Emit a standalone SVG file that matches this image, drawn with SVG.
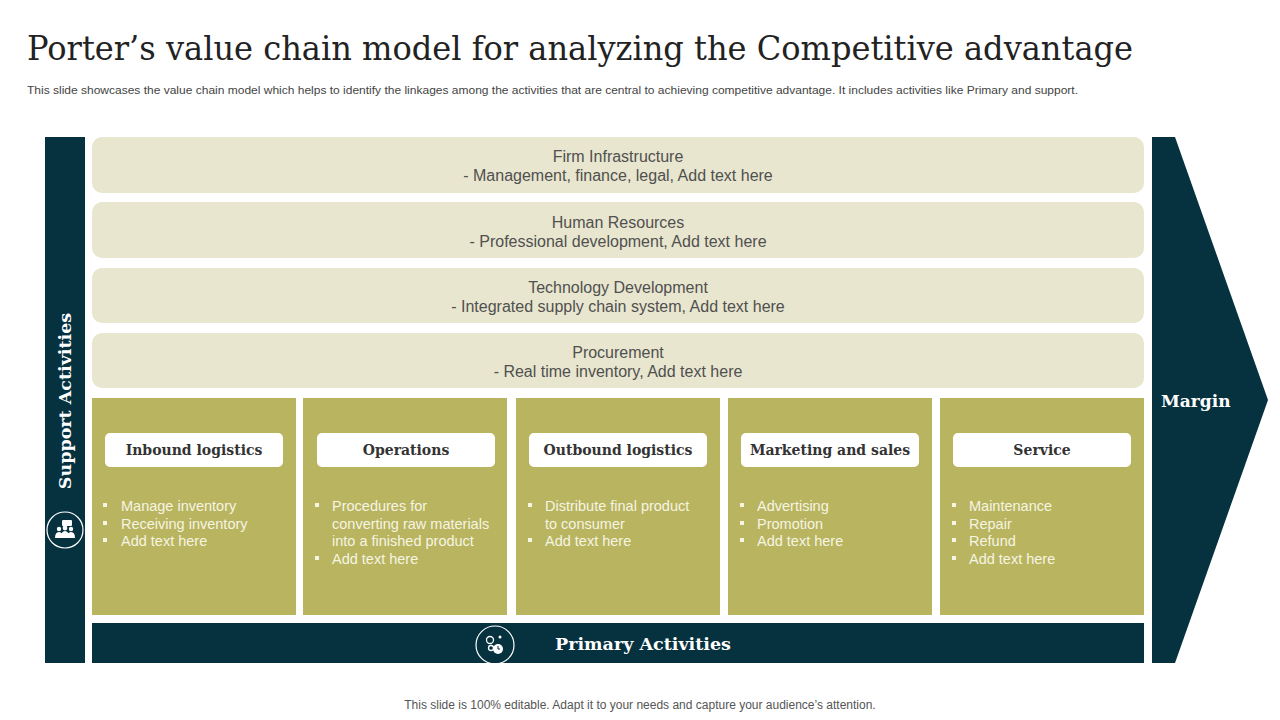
<svg xmlns="http://www.w3.org/2000/svg" width="1280" height="720" viewBox="0 0 1280 720">
<style>
.dark{fill:#06313F}
.sup{fill:#E8E6CE}
.pri{fill:#B8B460}
.lab{fill:#FFFFFF}
.st{font-family:"Liberation Sans",Arial,sans-serif;font-size:16px;fill:#505050;text-anchor:middle}
.lt{font-family:"DejaVu Serif",Georgia,serif;font-size:14px;font-weight:bold;fill:#333333;text-anchor:middle}
.bt{font-family:"Liberation Sans",Arial,sans-serif;font-size:14.5px;fill:#F6F4E2}
.bl{fill:#F6F4E2}
.wt{font-family:"DejaVu Serif",Georgia,serif;font-weight:bold;fill:#FFFFFF}
</style>
<rect width="1280" height="720" fill="#FFFFFF"/>
<text x="27" y="60" font-family="DejaVu Serif,Georgia,serif" font-size="34" fill="#222222" textLength="1106" lengthAdjust="spacingAndGlyphs">Porter’s value chain model for analyzing the Competitive advantage</text>
<text x="27" y="94" font-family="Liberation Sans,Arial,sans-serif" font-size="11" fill="#444444" textLength="1051" lengthAdjust="spacingAndGlyphs">This slide showcases the value chain model which helps to identify the linkages among the activities that are central to  achieving competitive advantage. It includes activities like Primary and support.</text>

<g id="support-bar">
<rect class="dark" x="45" y="137" width="40" height="526"/>
<text class="wt" font-size="17.5" text-anchor="middle" transform="translate(71,401) rotate(-90)">Support Activities</text>
<circle cx="65" cy="530" r="18" fill="none" stroke="#FFFFFF" stroke-width="1.2"/>
<g fill="#FFFFFF">
<rect x="62" y="520" width="10" height="6" rx="1"/>
<circle cx="59" cy="529" r="2.2"/><circle cx="65" cy="528" r="2.4"/><circle cx="71" cy="529" r="2.2"/>
<path d="M55 538 q0-6 4-6 q4 0 4 6z M61 538 q0-7 4-7 q4 0 4 7z M67 538 q0-6 4-6 q4 0 4 6z"/>
</g>
</g>

<g id="firm-infrastructure">
<rect class="sup" x="92" y="137" width="1052" height="56" rx="10"/>
<text class="st" x="618" y="162">Firm Infrastructure</text>
<text class="st" x="618" y="181">- Management, finance, legal, Add text here</text>
</g>
<g id="human-resources">
<rect class="sup" x="92" y="202" width="1052" height="56" rx="10"/>
<text class="st" x="618" y="228">Human Resources</text>
<text class="st" x="618" y="247">- Professional development, Add text here</text>
</g>
<g id="technology-development">
<rect class="sup" x="92" y="268" width="1052" height="55" rx="10"/>
<text class="st" x="618" y="293">Technology  Development</text>
<text class="st" x="618" y="312">- Integrated supply chain system, Add text here</text>
</g>
<g id="procurement">
<rect class="sup" x="92" y="333" width="1052" height="55" rx="10"/>
<text class="st" x="618" y="358">Procurement</text>
<text class="st" x="618" y="377">- Real time inventory,  Add text here</text>
</g>

<g id="inbound-logistics">
<rect class="pri" x="92" y="398" width="204" height="217"/>
<rect class="lab" x="105" y="433" width="178" height="34" rx="5"/>
<text class="lt" x="194" y="455">Inbound logistics</text>
<rect class="bl" x="103" y="503" width="4" height="4"/><rect class="bl" x="103" y="521" width="4" height="4"/><rect class="bl" x="103" y="538" width="4" height="4"/>
<text class="bt" x="121" y="511">Manage inventory</text>
<text class="bt" x="121" y="529">Receiving inventory</text>
<text class="bt" x="121" y="546">Add text here</text>
</g>
<g id="operations">
<rect class="pri" x="303" y="398" width="204" height="217"/>
<rect class="lab" x="317" y="433" width="178" height="34" rx="5"/>
<text class="lt" x="406" y="455">Operations</text>
<rect class="bl" x="315" y="503" width="4" height="4"/><rect class="bl" x="315" y="556" width="4" height="4"/>
<text class="bt" x="332" y="511">Procedures for</text>
<text class="bt" x="332" y="529">converting raw materials</text>
<text class="bt" x="332" y="546">into a finished product</text>
<text class="bt" x="332" y="564">Add text here</text>
</g>
<g id="outbound-logistics">
<rect class="pri" x="516" y="398" width="204" height="217"/>
<rect class="lab" x="529" y="433" width="178" height="34" rx="5"/>
<text class="lt" x="618" y="455">Outbound logistics</text>
<rect class="bl" x="528" y="503" width="4" height="4"/><rect class="bl" x="528" y="538" width="4" height="4"/>
<text class="bt" x="545" y="511">Distribute final product</text>
<text class="bt" x="545" y="529">to consumer</text>
<text class="bt" x="545" y="546">Add text here</text>
</g>
<g id="marketing-and-sales">
<rect class="pri" x="728" y="398" width="204" height="217"/>
<rect class="lab" x="741" y="433" width="178" height="34" rx="5"/>
<text class="lt" x="830" y="455">Marketing and sales</text>
<rect class="bl" x="740" y="503" width="4" height="4"/><rect class="bl" x="740" y="521" width="4" height="4"/><rect class="bl" x="740" y="538" width="4" height="4"/>
<text class="bt" x="757" y="511">Advertising</text>
<text class="bt" x="757" y="529">Promotion</text>
<text class="bt" x="757" y="546">Add text here</text>
</g>
<g id="service">
<rect class="pri" x="940" y="398" width="204" height="217"/>
<rect class="lab" x="953" y="433" width="178" height="34" rx="5"/>
<text class="lt" x="1042" y="455">Service</text>
<rect class="bl" x="952" y="503" width="4" height="4"/><rect class="bl" x="952" y="521" width="4" height="4"/><rect class="bl" x="952" y="538" width="4" height="4"/><rect class="bl" x="952" y="556" width="4" height="4"/>
<text class="bt" x="969" y="511">Maintenance</text>
<text class="bt" x="969" y="529">Repair</text>
<text class="bt" x="969" y="546">Refund</text>
<text class="bt" x="969" y="564">Add text here</text>
</g>

<g id="primary-bar">
<rect class="dark" x="92" y="623" width="1052" height="40"/>
<circle cx="495" cy="645" r="19" fill="none" stroke="#FFFFFF" stroke-width="1.2"/>
<g fill="none" stroke="#FFFFFF" stroke-width="1.3">
<circle cx="490" cy="640" r="3.5"/><circle cx="491" cy="648" r="2.5"/>
</g>
<circle cx="498" cy="649" r="5" fill="#FFFFFF"/>
<path d="M498 646 v3 h2" stroke="#06313F" stroke-width="1" fill="none"/>
<circle cx="500" cy="637" r="1.5" fill="#FFFFFF"/>
<text class="wt" font-size="17.5" x="643" y="650" text-anchor="middle">Primary Activities</text>
</g>

<g id="margin">
<polygon class="dark" points="1152,137 1175,137 1268,400 1175,663 1152,663"/>
<text class="wt" font-size="17" x="1161" y="407">Margin</text>
</g>

<text x="640" y="709" font-family="Liberation Sans,Arial,sans-serif" font-size="12" fill="#555555" text-anchor="middle">This slide is 100% editable. Adapt it to your needs and capture your audience’s attention.</text>
</svg>
